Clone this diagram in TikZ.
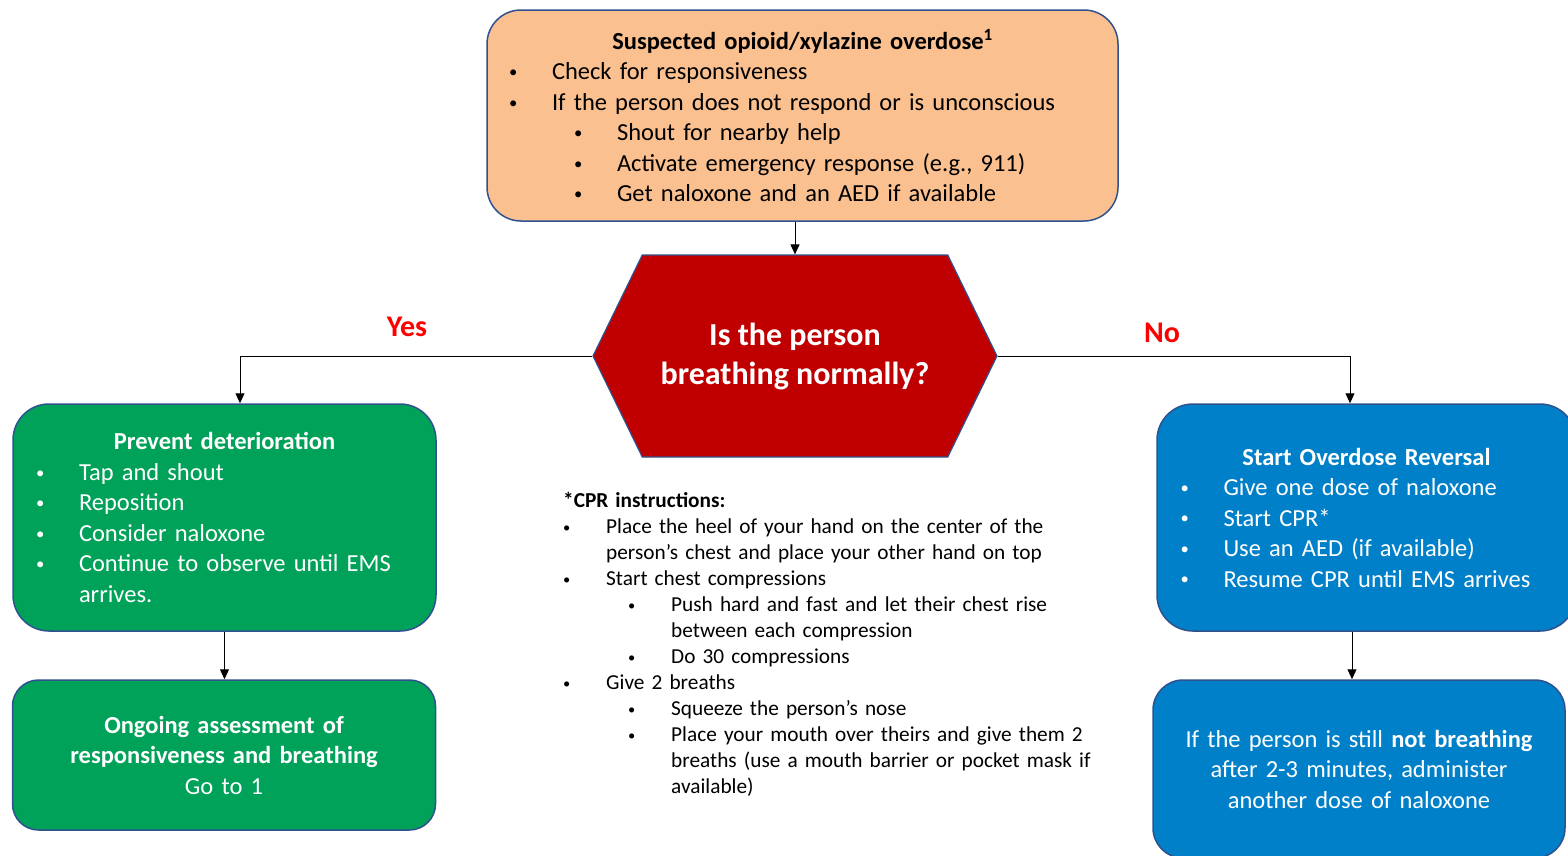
\documentclass[tikz,border=0pt]{standalone}
\usepackage{fontspec}
\setmainfont{Carlito}
\usepackage{graphicx}
\usepackage{xcolor}
\usepackage{tikz}
\usetikzlibrary{arrows.meta,positioning,shapes.symbols}

\definecolor{peach}{HTML}{FAC090}
\definecolor{leaf}{HTML}{00A25A}
\definecolor{ocean}{HTML}{0080C8}
\definecolor{crimson}{HTML}{C00000}
\definecolor{rim}{HTML}{2F528F}

\newcommand{\bul}{\makebox[43pt][l]{\raisebox{0.09em}{\scalebox{0.68}{\textbullet}}}}
\newcommand{\subbul}{\hspace*{65pt}\bul}
\newcommand{\ttl}[1]{\makebox[\hsize][c]{\bfseries #1}}

\begin{document}
\begin{tikzpicture}[
    x=1pt, y=-1pt,
    panel/.style={rectangle, draw=rim, line width=1.5pt, align=left, inner sep=0pt, font=\fontsize{24.5}{30.5}\selectfont},
    triage/.style={panel, fill=peach, rounded corners=34pt, minimum width=631pt, minimum height=211pt, text width=587pt},
    watch/.style={panel, fill=leaf, text=white, rounded corners=36pt, minimum width=423pt},
    revive/.style={panel, fill=ocean, text=white, rounded corners=36pt},
    check/.style={signal, signal to=east and west, signal pointer angle=128, draw=rim, line width=1.2pt, fill=crimson, text=white, align=center, minimum width=404pt, minimum height=202pt, font=\fontsize{32}{39}\selectfont\bfseries},
    reply/.style={text=red, font=\fontsize{30}{36}\selectfont\bfseries},
    note/.style={align=left, inner sep=0pt, text width=540pt, font=\fontsize{21.3}{26}\selectfont},
    arrow/.style={-{Triangle[length=10pt,width=9pt]}, line width=1pt}
]
\path[use as bounding box, fill=white] (0,0) rectangle (1568,855);

% First check
\node[triage] (suspect) at (802.5,115.5) {\ttl{Suspected opioid/xylazine overdose\textsuperscript{1}}\\
\bul Check for responsiveness\\
\bul If the person does not respond or is unconscious\\
\subbul Shout for nearby help\\
\subbul Activate emergency response (e.g., 911)\\
\subbul Get naloxone and an AED if available};

% Decision
\node[check] (breath) at (795,356) {Is the person\\breathing normally?};
\node[reply] (yes) at (407,327) {Yes};
\node[reply] (no) at (1162,333) {No};

% Breathing branch
\node[watch, minimum height=227pt, text width=377pt] (prevent) at (224.5,517.5) {\ttl{Prevent deterioration}\\
\bul Tap and shout\\
\bul Reposition\\
\bul Consider naloxone\\
\bul Continue to observe until EMS\\
\hspace*{43pt}arrives.};
\node[watch, align=center, minimum height=150pt, text width=400pt, rounded corners=26pt] (ongoing) at (224,755) {\textbf{Ongoing assessment of}\\
\textbf{responsiveness and breathing}\\
Go to 1};

% Not breathing branch
\node[revive, minimum width=419pt, minimum height=227pt, text width=372pt] (reversal) at (1366.5,517.5) {\ttl{Start Overdose Reversal}\\
\bul Give one dose of naloxone\\
\bul Start CPR*\\
\bul Use an AED (if available)\\
\bul Resume CPR until EMS arrives};
\node[revive, align=center, minimum width=412pt, minimum height=178pt, text width=400pt, rounded corners=30pt] (redose) at (1359,769) {If the person is still \textbf{not breathing}\\
after 2-3 minutes, administer\\
another dose of naloxone};

% CPR notes
\node[note, anchor=north west] (cpr) at (563,492.5) {\textbf{*CPR instructions:}\\
\bul Place the heel of your hand on the center of the\\
\hspace*{43pt}person’s chest and place your other hand on top\\
\bul Start chest compressions\\
\subbul Push hard and fast and let their chest rise\\
\hspace*{108pt}between each compression\\
\subbul Do 30 compressions\\
\bul Give 2 breaths\\
\subbul Squeeze the person’s nose\\
\subbul Place your mouth over theirs and give them 2\\
\hspace*{108pt}breaths (use a mouth barrier or pocket mask if\\
\hspace*{108pt}available)};

% Connections
\draw[arrow] (breath.north |- suspect.south) -- (breath.north);
\draw[arrow] (breath.west) -| ([xshift=15.5pt]prevent.north);
\draw[arrow] (breath.east) -| ([xshift=-16.5pt]reversal.north);
\draw[arrow] (prevent.south) -- (prevent.south |- ongoing.north);
\draw[arrow] ([xshift=-14.5pt]reversal.south) -- ([xshift=-14.5pt]reversal.south |- redose.north);

\end{tikzpicture}
\end{document}
